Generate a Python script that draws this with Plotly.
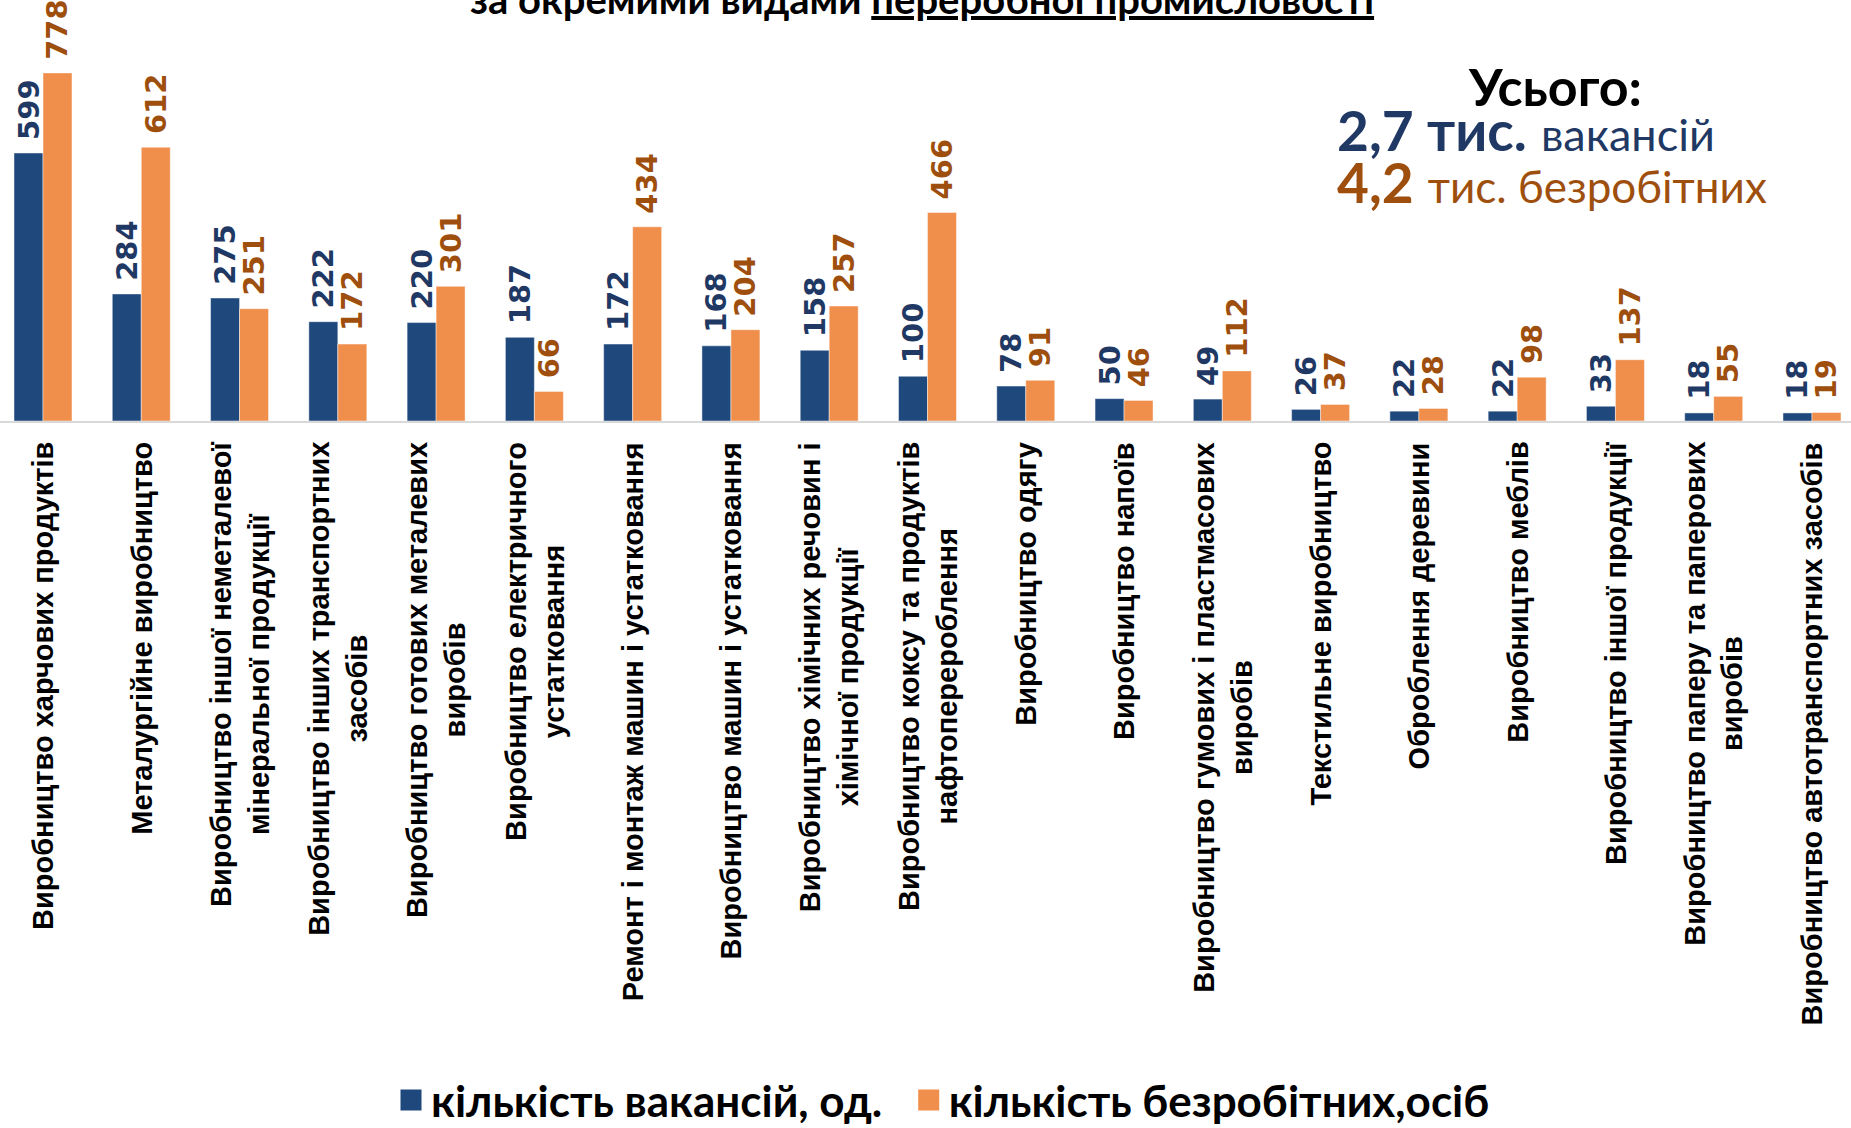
import plotly.graph_objects as go

categories = [
    "Виробництво харчових продуктів",
    "Металургійне виробництво",
    "Виробництво іншої неметалевої<br>мінеральної продукції",
    "Виробництво інших транспортних<br>засобів",
    "Виробництво готових металевих<br>виробів",
    "Виробництво електричного<br>устатковання",
    "Ремонт і монтаж машин і устатковання",
    "Виробництво машин і устатковання",
    "Виробництво хімічних речовин і<br>хімічної продукції",
    "Виробництво коксу та продуктів<br>нафтоперероблення",
    "Виробництво одягу",
    "Виробництво напоїв",
    "Виробництво гумових і пластмасових<br>виробів",
    "Текстильне виробництво",
    "Оброблення деревини",
    "Виробництво меблів",
    "Виробництво іншої продукції",
    "Виробництво паперу та паперових<br>виробів",
    "Виробництво автотранспортних засобів",
]
vacancies = [599, 284, 275, 222, 220, 187, 172, 168, 158, 100, 78, 50, 49, 26, 22, 22, 33, 18, 18]
unemployed = [778, 612, 251, 172, 301, 66, 434, 204, 257, 466, 91, 46, 112, 37, 28, 98, 137, 55, 19]

series_names = ["кількість вакансій, од.", "кількість безробітних,осіб"]
title_text = "за окремими видами <u>переробної промисловості</u>"
total_title = "Усього:"
total_vac = ("2,7 тис.", "вакансій")
total_unemp = ("4,2", "тис. безробітних")

BLUE = "#1F497D"
ORANGE = "#F08E4C"
BLUE_TXT = "#1F3864"
ORANGE_TXT = "#9E4F0E"
CAL = "Lato, Liberation Sans, sans-serif"

fig = go.Figure()
for vals, col, tcol in [(vacancies, BLUE, BLUE_TXT), (unemployed, ORANGE, ORANGE_TXT)]:
    fig.add_trace(go.Bar(
        x=categories, y=vals,
        marker=dict(color=col, line=dict(color="rgba(255,255,255,0.45)", width=1)),
        texttemplate="\u00a0%{y}", textposition="outside", textangle=-90,
        textfont=dict(family="DejaVu Sans", size=29, color=tcol, weight="bold"),
        constraintext="none", cliponaxis=False, showlegend=False,
    ))

legend_names = [series_names[0] + "\u00a0\u00a0", series_names[1]]
for name, col in zip(legend_names, [BLUE, ORANGE]):
    fig.add_trace(go.Scatter(
        x=[None], y=[None], mode="markers", name=f"<b>{name}</b>",
        marker=dict(symbol="square", size=24, color=col, line=dict(color=col, width=8)),
    ))

annotations = []
for c in categories:
    annotations.append(dict(
        x=c, xref="x", y=0, yref="paper", yanchor="top", xanchor="center",
        yshift=-19, text=f"<b>{c}</b>", textangle=-90, showarrow=False,
        align="center", font=dict(family="Liberation Sans", size=29, color="#000000"),
    ))

annotations.append(dict(
    x=922 / 1851, xref="paper", y=1, yref="paper", yanchor="bottom", xanchor="center",
    yshift=-25, text=f"<b>{title_text}</b>", showarrow=False,
    font=dict(family=CAL, size=40, color="#000000"),
))
annotations.append(dict(
    x=1555 / 1851, xref="paper", y=(421 - 86) / 421, yref="paper", yanchor="middle", xanchor="center",
    text=f"<b>{total_title}</b>", showarrow=False,
    font=dict(family=CAL, size=52, color="#000000"),
))
annotations.append(dict(
    x=1335 / 1851, xref="paper", y=(421 - 130) / 421, yref="paper", yanchor="middle", xanchor="left",
    text=f"<b>{total_vac[0]}</b> <span style='font-size:45px'>{total_vac[1]}</span>", showarrow=False,
    font=dict(family=CAL, size=55, color=BLUE_TXT),
))
annotations.append(dict(
    x=1335 / 1851, xref="paper", y=(421 - 182) / 421, yref="paper", yanchor="middle", xanchor="left",
    text=f"<b>{total_unemp[0]}</b> <span style='font-size:44px'>{total_unemp[1]}</span>", showarrow=False,
    font=dict(family=CAL, size=55, color=ORANGE_TXT),
))

fig.update_layout(
    width=1851, height=1128,
    margin=dict(l=0, r=0, t=0, b=707, pad=0, autoexpand=False),
    paper_bgcolor="white", plot_bgcolor="white",
    barmode="group", bargap=0.41, bargroupgap=0,
    xaxis=dict(type="category", categoryorder="array", categoryarray=categories,
               range=[-0.4375, 18.397], showticklabels=False, ticks="",
               showline=True, linecolor="#D9D9D9", linewidth=2, showgrid=False, zeroline=False),
    yaxis=dict(range=[0, 941], visible=False, showgrid=False, zeroline=False),
    legend=dict(orientation="h", x=943 / 1851, xanchor="center", y=(421 - 1136) / 421, yanchor="bottom",
                font=dict(family=CAL, size=44, color="#000000"), itemwidth=30,
                bgcolor="rgba(0,0,0,0)"),
    annotations=annotations,
)

fig.write_html("out.html", config={"displayModeBar": False},
               post_script="document.body.style.margin='0px';")
